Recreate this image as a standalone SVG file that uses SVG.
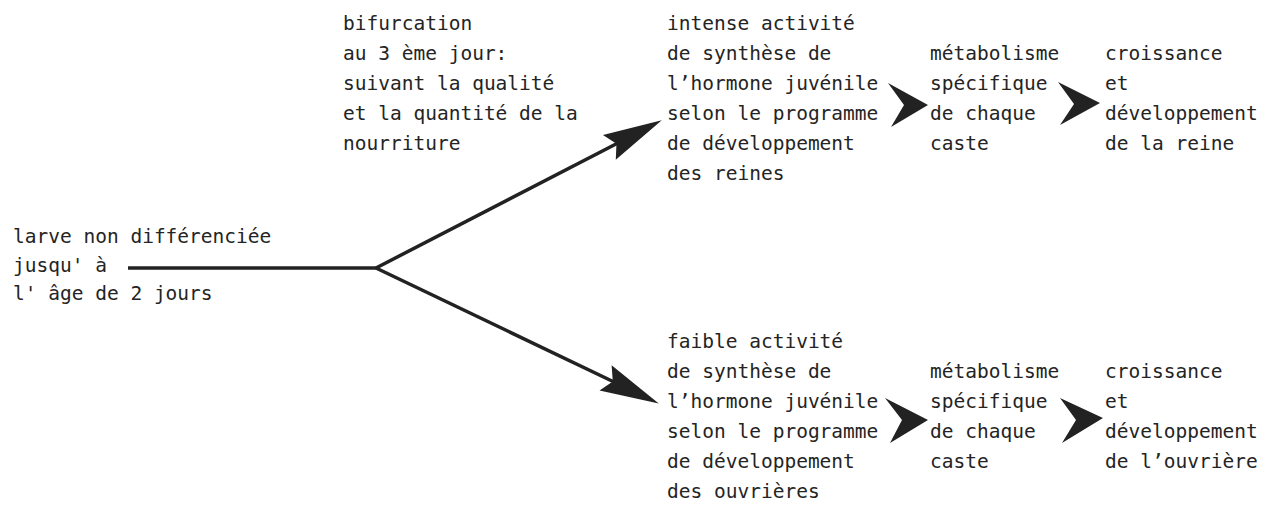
<svg xmlns="http://www.w3.org/2000/svg" width="1271" height="512" viewBox="0 0 1271 512">
<style>
text{font-family:"DejaVu Sans Mono","Liberation Mono",monospace;font-size:19.5px;fill:#242424}
.ln{stroke:#222;stroke-width:3.5;fill:none}
.hd{fill:#222}
</style>
<defs>
<marker id="ah" markerUnits="userSpaceOnUse" orient="auto" markerWidth="80" markerHeight="40" refX="0" refY="0" viewBox="-20 -20 80 40" overflow="visible">
<path class="hd" d="M45,0 L-14,-14 L-6,0 L-14,14 Z"/>
</marker>
</defs>
<rect width="1271" height="512" fill="#fff"/>
<g id="connectors">
<path class="ln" d="M128,268 L376,268"/>
<path class="ln" d="M376,268 L621.8,141" marker-end="url(#ah)"/>
<path class="ln" d="M376,268 L618.2,384" marker-end="url(#ah)"/>
<path class="hd" d="M888,83 L928,105 L891,127 L904,105 Z"/>
<path class="hd" d="M1058,82 L1100,103 L1060,125 L1074,104 Z"/>
<path class="hd" d="M885,398 L928,420 L890,443 L902,420 Z"/>
<path class="hd" d="M1060,398 L1103,418 L1062,443 L1076,420 Z"/>
</g>
<g id="larve">
<text x="13" y="243">larve non différenciée</text>
<text x="13" y="272">jusqu' à</text>
<text x="13" y="300">l' âge de 2 jours</text>
</g>
<g id="bifurcation">
<text x="343" y="30">bifurcation</text>
<text x="343" y="60">au 3 ème jour:</text>
<text x="343" y="90">suivant la qualité</text>
<text x="343" y="120">et la quantité de la</text>
<text x="343" y="150">nourriture</text>
</g>
<g id="reine-synthese">
<text x="667" y="30">intense activité</text>
<text x="667" y="60">de synthèse de</text>
<text x="667" y="90">l’hormone juvénile</text>
<text x="667" y="120">selon le programme</text>
<text x="667" y="150">de développement</text>
<text x="667" y="180">des reines</text>
</g>
<g id="reine-metabolisme">
<text x="930" y="60">métabolisme</text>
<text x="930" y="90">spécifique</text>
<text x="930" y="120">de chaque</text>
<text x="930" y="150">caste</text>
</g>
<g id="reine-croissance">
<text x="1105" y="60">croissance</text>
<text x="1105" y="90">et</text>
<text x="1105" y="120">développement</text>
<text x="1105" y="150">de la reine</text>
</g>
<g id="ouvriere-synthese">
<text x="667" y="348">faible activité</text>
<text x="667" y="378">de synthèse de</text>
<text x="667" y="408">l’hormone juvénile</text>
<text x="667" y="438">selon le programme</text>
<text x="667" y="468">de développement</text>
<text x="667" y="498">des ouvrières</text>
</g>
<g id="ouvriere-metabolisme">
<text x="930" y="378">métabolisme</text>
<text x="930" y="408">spécifique</text>
<text x="930" y="438">de chaque</text>
<text x="930" y="468">caste</text>
</g>
<g id="ouvriere-croissance">
<text x="1105" y="378">croissance</text>
<text x="1105" y="408">et</text>
<text x="1105" y="438">développement</text>
<text x="1105" y="468">de l’ouvrière</text>
</g>
</svg>
